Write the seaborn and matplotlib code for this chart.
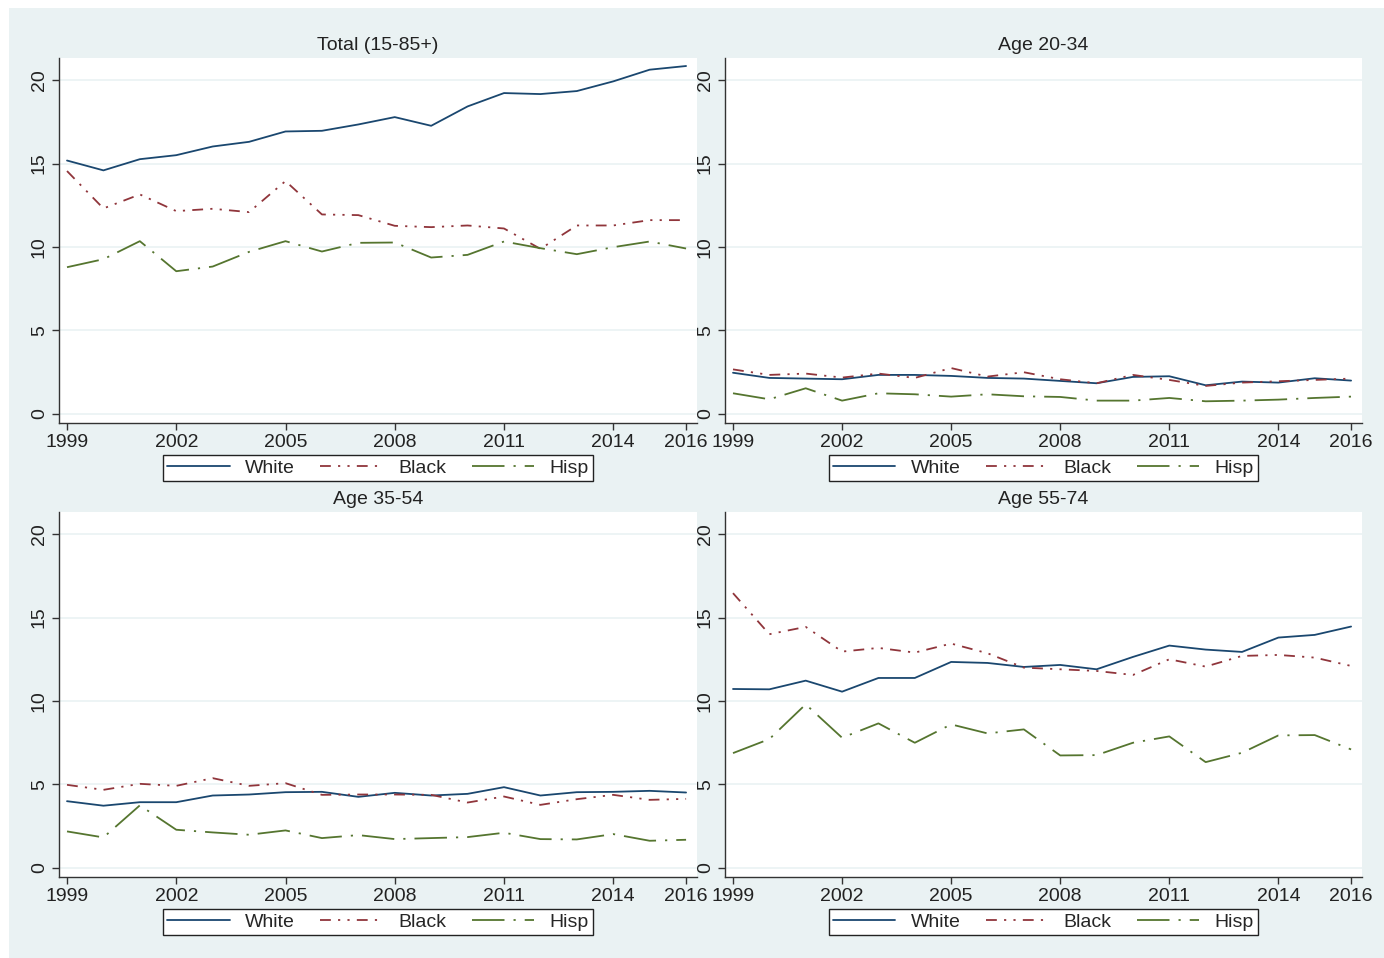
import numpy as np
import pandas as pd
import matplotlib
matplotlib.use("Agg")
import matplotlib.pyplot as plt
import seaborn as sns

years = list(range(1999, 2017))
groups = ["White", "Black", "Hisp"]

total_white = [15.18, 14.59, 15.26, 15.50, 16.02, 16.30, 16.92, 16.96, 17.34, 17.78, 17.26, 18.42, 19.22, 19.16, 19.34, 19.92, 20.62, 20.84]
total_black = [14.55, 12.31, 13.15, 12.15, 12.29, 12.09, 13.95, 11.95, 11.91, 11.27, 11.19, 11.29, 11.11, 9.89, 11.29, 11.29, 11.61, 11.61]
total_hisp = [8.79, 9.27, 10.35, 8.55, 8.83, 9.71, 10.35, 9.73, 10.25, 10.27, 9.37, 9.53, 10.33, 9.93, 9.57, 9.99, 10.33, 9.91]

a2034_white = [2.47, 2.16, 2.12, 2.08, 2.34, 2.34, 2.28, 2.16, 2.12, 1.98, 1.84, 2.22, 2.26, 1.72, 1.94, 1.88, 2.14, 2.00]
a2034_black = [2.67, 2.34, 2.42, 2.18, 2.42, 2.16, 2.75, 2.24, 2.50, 2.08, 1.84, 2.34, 2.04, 1.68, 1.88, 1.96, 2.04, 2.12]
a2034_hisp = [1.24, 0.88, 1.54, 0.80, 1.24, 1.18, 1.04, 1.18, 1.06, 1.02, 0.80, 0.80, 0.96, 0.76, 0.80, 0.86, 0.96, 1.04]

a3554_white = [4.00, 3.73, 3.94, 3.94, 4.34, 4.40, 4.54, 4.56, 4.26, 4.50, 4.34, 4.44, 4.84, 4.34, 4.54, 4.56, 4.62, 4.52]
a3554_black = [4.98, 4.68, 5.04, 4.92, 5.38, 4.92, 5.08, 4.38, 4.40, 4.40, 4.38, 3.92, 4.28, 3.78, 4.12, 4.38, 4.08, 4.14]
a3554_hisp = [2.19, 1.83, 3.75, 2.29, 2.13, 1.99, 2.25, 1.79, 1.97, 1.73, 1.79, 1.85, 2.11, 1.73, 1.71, 2.03, 1.63, 1.69]

a5574_white = [10.72, 10.70, 11.22, 10.56, 11.38, 11.38, 12.34, 12.28, 12.04, 12.16, 11.90, 12.64, 13.32, 13.08, 12.94, 13.80, 13.96, 14.46]
a5574_black = [16.46, 14.00, 14.44, 12.96, 13.18, 12.90, 13.44, 12.86, 12.00, 11.90, 11.80, 11.56, 12.50, 12.06, 12.70, 12.76, 12.60, 12.10]
a5574_hisp = [6.88, 7.72, 9.80, 7.80, 8.66, 7.50, 8.60, 8.06, 8.30, 6.74, 6.76, 7.50, 7.88, 6.34, 6.90, 7.94, 7.96, 7.10]

panel_titles = ["Total (15-85+)", "Age 20-34", "Age 35-54", "Age 55-74"]
panel_series = [
    (total_white, total_black, total_hisp),
    (a2034_white, a2034_black, a2034_hisp),
    (a3554_white, a3554_black, a3554_hisp),
    (a5574_white, a5574_black, a5574_hisp),
]
xtick_years = [1999, 2002, 2005, 2008, 2011, 2014, 2016]
ytick_vals = [0, 5, 10, 15, 20]

colors = {"White": "#1a476f", "Black": "#90353b", "Hisp": "#55752f"}
dashes = {"White": "", "Black": (6, 4, 1.2, 4, 1.2, 4), "Hisp": (18, 5, 1.2, 5)}

BG = "#eaf2f3"
FS = 14
sns.set_style("white")
plt.rcParams["font.family"] = ["Liberation Sans Narrow", "Liberation Sans", "DejaVu Sans"]
plt.rcParams["axes.linewidth"] = 1.0

W, H = 1384, 958
fig = plt.figure(figsize=(W / 100, H / 100), dpi=100)
fig.patch.set_facecolor("white")
# light graph region behind all panels
fig.add_artist(plt.Rectangle((9 / W, 0), 1 - 9 / W, 1 - 8 / H, transform=fig.transFigure,
                             facecolor=BG, edgecolor="none", zorder=-10))

# panel boxes in pixels: (left, top, right, bottom)
boxes = [(59, 58, 697, 423), (725, 58, 1362, 423), (59, 512, 697, 877), (725, 512, 1362, 877)]
legend_y = [468, 468, 922, 922]

for i, (box, title, series) in enumerate(zip(boxes, panel_titles, panel_series)):
    l, t, r, b = box
    ax = fig.add_axes([l / W, 1 - b / H, (r - l) / W, (b - t) / H])
    ax.set_facecolor("white")
    df = pd.DataFrame({
        "year": years * 3,
        "rate": list(series[0]) + list(series[1]) + list(series[2]),
        "group": sum([[g] * len(years) for g in groups], []),
    })
    sns.lineplot(data=df, x="year", y="rate", hue="group", style="group",
                 palette=colors, dashes=dashes, hue_order=groups, style_order=groups,
                 linewidth=1.3, ax=ax, legend=False)
    ax.set_xlim(1998.78, 2016.3)
    ax.set_ylim(-0.54, 21.32)
    ax.set_xticks(xtick_years)
    ax.set_yticks(ytick_vals)
    ax.set_xticklabels([str(y) for y in xtick_years], fontsize=FS)
    ax.set_yticklabels([str(v) for v in ytick_vals], fontsize=FS, rotation=90, va="center")
    ax.tick_params(axis="both", direction="out", length=5, width=1, color="#333333",
                   labelcolor="#222222", pad=3, left=True, bottom=True)
    ax.yaxis.grid(True, color=BG, linewidth=1.2)
    ax.set_axisbelow(True)
    for s in ["top", "right"]:
        ax.spines[s].set_visible(False)
    for s in ["left", "bottom"]:
        ax.spines[s].set_color("#333333")
    ax.set_xlabel("")
    ax.set_ylabel("")
    ax.set_title(title, fontsize=FS, color="#222222", pad=6)

    handles = [plt.Line2D([], [], color=colors[g], linewidth=1.3,
                          linestyle=(0, dashes[g]) if dashes[g] else "-") for g in groups]
    leg_w = 429
    leg_h = 26
    cx = (l + r) / 2
    leg = ax.legend(handles, groups, loc="center", ncol=3, mode="expand",
                    bbox_to_anchor=((cx - leg_w / 2) / W, 1 - (legend_y[i] + leg_h / 2) / H,
                                    leg_w / W, leg_h / H),
                    bbox_transform=fig.transFigure, fontsize=FS, frameon=True, fancybox=False,
                    edgecolor="#222222", facecolor="white", framealpha=1, handlelength=3.2,
                    handletextpad=0.8, borderpad=0.2, borderaxespad=0, labelspacing=0)
    leg.get_frame().set_linewidth(1.0)

fig.savefig("out.png", dpi=100, facecolor=fig.get_facecolor())
